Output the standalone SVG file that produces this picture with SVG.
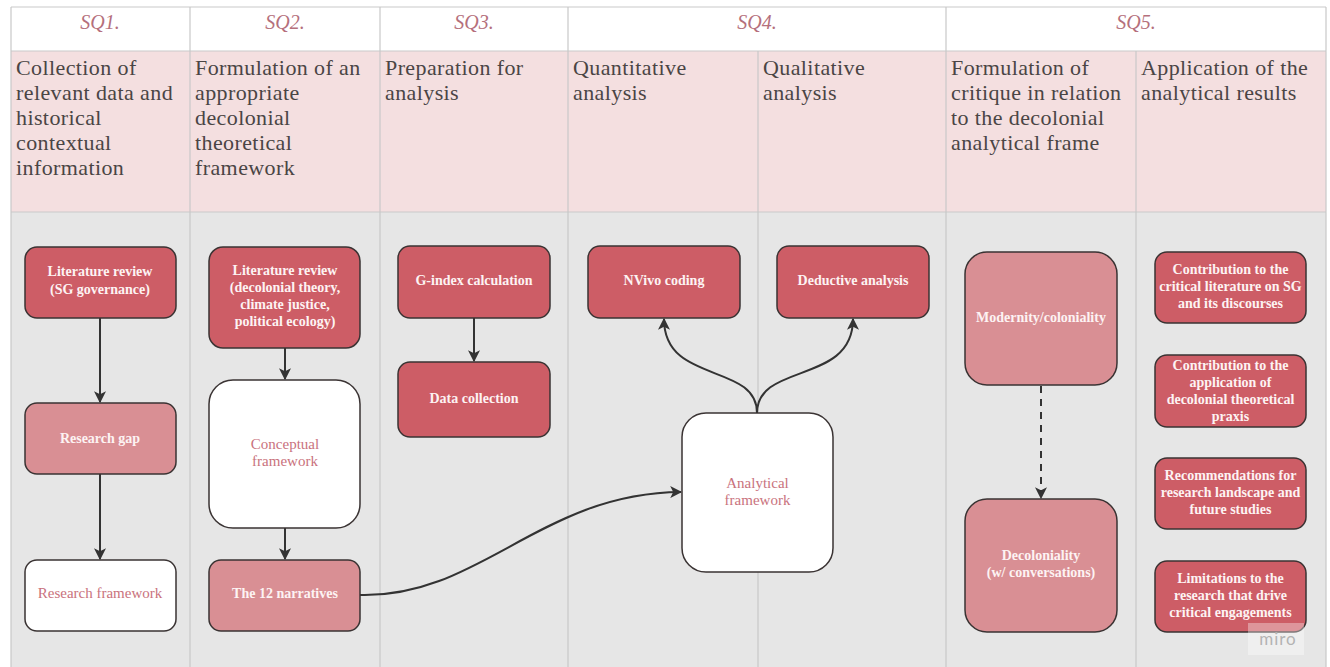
<svg xmlns="http://www.w3.org/2000/svg" width="1330" height="667" viewBox="0 0 1330 667">
<defs>
<style>
.sq{font-family:"Liberation Serif","DejaVu Serif",serif;font-style:italic;font-size:20px;fill:#b5707c;text-anchor:middle}
.hd{font-family:"Liberation Serif","DejaVu Serif",serif;font-size:22px;fill:#4a4545;letter-spacing:0.4px}
.grid{stroke:#c9c9c9;stroke-width:1.2;fill:none}
.dark{fill:#cd5d66;stroke:#3a3333;stroke-width:1.5}
.light{fill:#d98f94;stroke:#3a3333;stroke-width:1.5}
.white{fill:#ffffff;stroke:#3a3333;stroke-width:1.5}
.lbl{font-family:"Liberation Serif","DejaVu Serif",serif;font-weight:bold;font-size:14px;fill:#fdf3f3;text-anchor:middle}
.lblp{font-family:"Liberation Serif","DejaVu Serif",serif;font-size:15px;fill:#c9727d;text-anchor:middle}
.con{stroke:#333333;stroke-width:2;fill:none}
</style>
<marker id="ah" viewBox="0 0 10 10" refX="9" refY="5" markerWidth="12" markerHeight="12" markerUnits="userSpaceOnUse" orient="auto">
<path d="M0,0 L10,5 L0,10 L2.5,5 z" fill="#333333"/>
</marker>
</defs>
<rect x="0" y="0" width="1330" height="667" fill="#ffffff"/>
<g id="table">
<rect x="11" y="7" width="1315" height="44" fill="#ffffff"/>
<rect x="11" y="51" width="1315" height="161" fill="#f4dfe0"/>
<rect x="11" y="212" width="1315" height="455" fill="#e6e6e6"/>
<path class="grid" d="M11,7 H1326 M11,51 H1326 M11,212 H1326 M11,7 V667 M1326,7 V667 M190,7 V667 M380,7 V667 M568,7 V667 M946,7 V667 M758,51 V667 M1136,51 V667"/>
<text class="sq" x="100" y="29">SQ1.</text>
<text class="sq" x="285" y="29">SQ2.</text>
<text class="sq" x="474" y="29">SQ3.</text>
<text class="sq" x="757" y="29">SQ4.</text>
<text class="sq" x="1136" y="29">SQ5.</text>
<text class="hd" x="16" y="75"><tspan x="16" dy="0">Collection of</tspan><tspan x="16" dy="25">relevant data and</tspan><tspan x="16" dy="25">historical</tspan><tspan x="16" dy="25">contextual</tspan><tspan x="16" dy="25">information</tspan></text>
<text class="hd" x="195" y="75"><tspan x="195" dy="0">Formulation of an</tspan><tspan x="195" dy="25">appropriate</tspan><tspan x="195" dy="25">decolonial</tspan><tspan x="195" dy="25">theoretical</tspan><tspan x="195" dy="25">framework</tspan></text>
<text class="hd" x="385" y="75"><tspan x="385" dy="0">Preparation for</tspan><tspan x="385" dy="25">analysis</tspan></text>
<text class="hd" x="573" y="75"><tspan x="573" dy="0">Quantitative</tspan><tspan x="573" dy="25">analysis</tspan></text>
<text class="hd" x="763" y="75"><tspan x="763" dy="0">Qualitative</tspan><tspan x="763" dy="25">analysis</tspan></text>
<text class="hd" x="951" y="75"><tspan x="951" dy="0">Formulation of</tspan><tspan x="951" dy="25">critique in relation</tspan><tspan x="951" dy="25">to the decolonial</tspan><tspan x="951" dy="25">analytical frame</tspan></text>
<text class="hd" x="1141" y="75"><tspan x="1141" dy="0">Application of the</tspan><tspan x="1141" dy="25">analytical results</tspan></text>
</g>
<g id="connectors">
<path class="con" d="M100,318 V402" marker-end="url(#ah)"/>
<path class="con" d="M100,474 V559" marker-end="url(#ah)"/>
<path class="con" d="M285,348 V379" marker-end="url(#ah)"/>
<path class="con" d="M285,528 V559" marker-end="url(#ah)"/>
<path class="con" d="M474,318 V361" marker-end="url(#ah)"/>
<path class="con" d="M757,413 C757,362 664,385 664,319" marker-end="url(#ah)"/>
<path class="con" d="M757,413 C757,362 853,385 853,319" marker-end="url(#ah)"/>
<path class="con" d="M360,595 C480,598 540,493 681,492" marker-end="url(#ah)"/>
<path class="con" d="M1041,386 V498" stroke-dasharray="7 6" marker-end="url(#ah)"/>
</g>
<g id="n-lit-sg"><rect class="dark" x="25" y="247" width="151" height="71" rx="12"/><text class="lbl"><tspan x="100" y="276">Literature review</tspan><tspan x="100" y="294">(SG governance)</tspan></text></g>
<g id="n-gap"><rect class="light" x="25" y="403" width="151" height="71" rx="12"/><text class="lbl" x="100" y="443">Research gap</text></g>
<g id="n-resfw"><rect class="white" x="25" y="560" width="151" height="71" rx="12"/><text class="lblp" x="100" y="598">Research framework</text></g>
<g id="n-lit-dec"><rect class="dark" x="209" y="247" width="151" height="101" rx="14"/><text class="lbl"><tspan x="285" y="275">Literature review</tspan><tspan x="285" y="292">(decolonial theory,</tspan><tspan x="285" y="309">climate justice,</tspan><tspan x="285" y="326">political ecology)</tspan></text></g>
<g id="n-concept"><rect class="white" x="209" y="380" width="151" height="148" rx="24"/><text class="lblp"><tspan x="285" y="449">Conceptual</tspan><tspan x="285" y="466">framework</tspan></text></g>
<g id="n-narr"><rect class="light" x="209" y="560" width="151" height="71" rx="12"/><text class="lbl" x="285" y="598">The 12 narratives</text></g>
<g id="n-gindex"><rect class="dark" x="398" y="246" width="152" height="72" rx="12"/><text class="lbl" x="474" y="285">G-index calculation</text></g>
<g id="n-data"><rect class="dark" x="398" y="362" width="152" height="75" rx="12"/><text class="lbl" x="474" y="403">Data collection</text></g>
<g id="n-nvivo"><rect class="dark" x="588" y="246" width="152" height="72" rx="12"/><text class="lbl" x="664" y="285">NVivo coding</text></g>
<g id="n-deduct"><rect class="dark" x="777" y="246" width="152" height="72" rx="12"/><text class="lbl" x="853" y="285">Deductive analysis</text></g>
<g id="n-analyt"><rect class="white" x="682" y="413" width="151" height="159" rx="24"/><text class="lblp"><tspan x="757.5" y="488">Analytical</tspan><tspan x="757.5" y="505">framework</tspan></text></g>
<g id="n-modern"><rect class="light" x="965" y="252" width="152" height="133" rx="22"/><text class="lbl" x="1041" y="322">Modernity/coloniality</text></g>
<g id="n-decol"><rect class="light" x="965" y="499" width="152" height="133" rx="22"/><text class="lbl"><tspan x="1041" y="560">Decoloniality</tspan><tspan x="1041" y="577">(w/ conversations)</tspan></text></g>
<g id="n-r1"><rect class="dark" x="1155" y="252" width="151" height="71" rx="12"/><text class="lbl"><tspan x="1230.5" y="274">Contribution to the</tspan><tspan x="1230.5" y="291">critical literature on SG</tspan><tspan x="1230.5" y="308">and its discourses</tspan></text></g>
<g id="n-r2"><rect class="dark" x="1155" y="355" width="151" height="72" rx="12"/><text class="lbl"><tspan x="1230.5" y="370">Contribution to the</tspan><tspan x="1230.5" y="387">application of</tspan><tspan x="1230.5" y="404">decolonial theoretical</tspan><tspan x="1230.5" y="421">praxis</tspan></text></g>
<g id="n-r3"><rect class="dark" x="1155" y="458" width="151" height="71" rx="12"/><text class="lbl"><tspan x="1230.5" y="480">Recommendations for</tspan><tspan x="1230.5" y="497">research landscape and</tspan><tspan x="1230.5" y="514">future studies</tspan></text></g>
<g id="n-r4"><rect class="dark" x="1155" y="561" width="151" height="71" rx="12"/><text class="lbl"><tspan x="1230.5" y="583">Limitations to the</tspan><tspan x="1230.5" y="600">research that drive</tspan><tspan x="1230.5" y="617">critical engagements</tspan></text></g>
<g id="watermark"><rect x="1248" y="623" width="56" height="32" fill="#ffffff" fill-opacity="0.35"/><text x="1278" y="645" font-family="Lato, 'Liberation Sans', sans-serif" font-size="17" fill="#b3b3b3" text-anchor="middle" letter-spacing="1">miro</text></g>
</svg>
